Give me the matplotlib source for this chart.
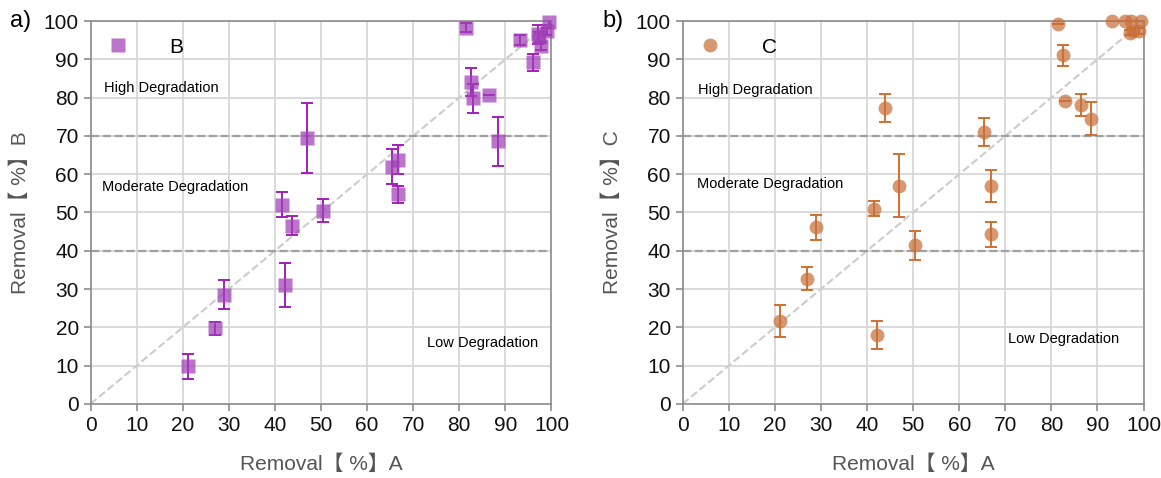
import matplotlib.pyplot as plt
import numpy as np

plt.rcParams['font.family'] = ['Liberation Sans', 'Noto Sans CJK SC', 'DejaVu Sans']

# removal A (shared x values)
rem_a = [21.2, 27.0, 29.0, 41.5, 42.2, 43.8, 47.0, 50.5, 65.4, 66.8, 66.8,
         81.5, 82.5, 83.0, 86.5, 88.5, 93.2, 96.0, 97.0, 97.3, 97.8, 99.0, 99.5]

# removal B and its error
rem_b = [9.8, 19.7, 28.5, 52.0, 31.0, 46.5, 69.4, 50.5, 62.0, 63.8, 54.7,
         98.3, 84.0, 79.8, 80.8, 68.6, 95.0, 89.2, 96.5, 95.7, 93.4, 97.3, 99.8]
err_b = [3.2, 1.8, 3.8, 3.3, 5.8, 2.5, 9.2, 3.0, 4.5, 3.7, 2.2,
         1.2, 3.7, 3.8, 0.0, 6.4, 1.3, 2.2, 2.5, 1.5, 1.0, 1.0, 0.8]

# removal C and its error
rem_c = [21.7, 32.7, 46.1, 51.0, 18.0, 77.3, 57.0, 41.4, 71.1, 57.0, 44.3,
         99.3, 91.0, 79.0, 78.0, 74.5, 100.0, 100.0, 97.0, 100.0, 97.5, 97.5, 100.0]
err_c = [4.2, 3.0, 3.3, 2.0, 3.7, 3.6, 8.2, 3.8, 3.7, 4.2, 3.2,
         0.0, 2.8, 0.0, 2.9, 4.3, 0.0, 0.0, 0.6, 0.0, 0.8, 0.8, 0.0]

ticks = np.arange(0, 101, 10)


def draw_panel(ax, x, y, err, name, marker, ms, fill, ecol, label_pos, tag):
    ax.set_xlim(0, 100)
    ax.set_ylim(0, 100)
    ax.set_xticks(ticks)
    ax.set_yticks(ticks)
    ax.grid(True, color='#d4d4d4', linewidth=1.2)
    ax.set_axisbelow(True)
    for s in ax.spines.values():
        s.set_color('#8c8c8c')
        s.set_linewidth(1.2)
    ax.tick_params(labelsize=15, color='#8c8c8c', length=5, width=1.2,
                   labelcolor='#111111')

    # reference lines
    ax.plot([0, 100], [0, 100], '--', color='#cccccc', linewidth=1.5, zorder=1)
    ax.axhline(70, color='#a0a0a0', linestyle='--', linewidth=1.6, zorder=1)
    ax.axhline(40, color='#a0a0a0', linestyle='--', linewidth=1.6, zorder=1)

    ax.errorbar(x, y, yerr=err, fmt='none', ecolor=ecol, elinewidth=1.4,
                capsize=4, capthick=1.4, zorder=3)
    ax.plot(x, y, linestyle='none', marker=marker, markersize=ms,
            markerfacecolor=fill, markeredgecolor='none', alpha=0.72,
            label=name, zorder=4, clip_on=False)

    ax.legend(loc='upper left', frameon=False, fontsize=15, handlelength=1.0,
              handletextpad=2.0, borderaxespad=0.3, borderpad=0.5)

    (hx, hy), (mx, my), (lx, ly) = label_pos
    ax.text(hx, hy, 'High Degradation', fontsize=10.5)
    ax.text(mx, my, 'Moderate Degradation', fontsize=10.5)
    ax.text(lx, ly, 'Low Degradation', fontsize=10.5)

    ax.set_xlabel('Removal【 %】A', fontsize=15, color='#555555', labelpad=14)
    ax.set_ylabel('Removal【 %】' + name, fontsize=15, color='#555555',
                  labelpad=10)
    ax.text(-0.175, 1.0, tag, transform=ax.transAxes, fontsize=17,
            va='center', ha='left')


fig = plt.figure(figsize=(11.61, 4.78), dpi=100)
ax1 = fig.add_axes([0.078, 0.155, 0.397, 0.801])
ax2 = fig.add_axes([0.588, 0.155, 0.397, 0.801])

draw_panel(ax1, rem_a, rem_b, err_b, 'B', 's', 10, '#a040b8', '#a020b8',
           [(3, 81.5), (2.5, 55.5), (73, 14.8)], 'a)')
draw_panel(ax2, rem_a, rem_c, err_c, 'C', 'o', 10, '#c8703a', '#d07030',
           [(3.4, 81), (3.2, 56.5), (70.5, 16)], 'b)')

fig.savefig('out.png', dpi=100)
